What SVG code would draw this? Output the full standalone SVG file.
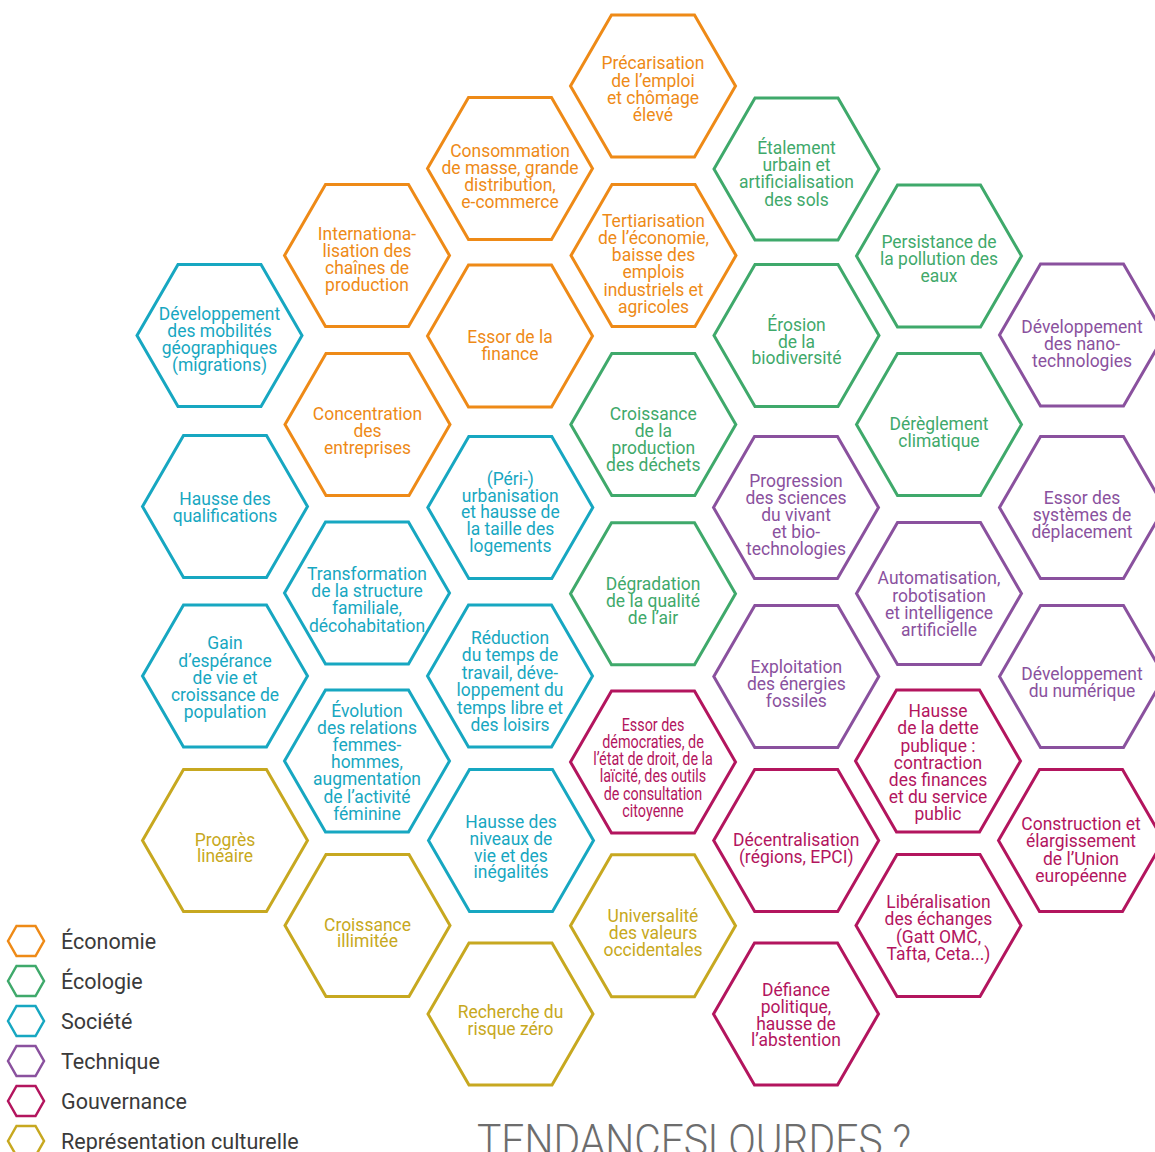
<svg xmlns="http://www.w3.org/2000/svg" xmlns:xlink="http://www.w3.org/1999/xlink" width="1155" height="1152" viewBox="0 0 1155 1152">
  <style>
    .lbl{font-family:Roboto,"Liberation Sans",sans-serif;font-size:19px;text-anchor:middle}
    .sm{font-size:17.5px}
    .eco use{stroke:#EE8A17}.eco text{fill:#EE8A17}
    .ecol use{stroke:#3FA96B}.ecol text{fill:#3FA96B}
    .soc use{stroke:#17A7C1}.soc text{fill:#17A7C1}
    .tech use{stroke:#8A519E}.tech text{fill:#8A519E}
    .gov use{stroke:#B3155E}.gov text{fill:#B3155E}
    .cult use{stroke:#C7A820}.cult text{fill:#C7A820}
    .leg{font-family:Roboto,"Liberation Sans",sans-serif;font-size:21.5px;fill:#3a3a3a}
    .title{font-family:Roboto,"Liberation Sans",sans-serif;font-weight:300;font-size:44px;fill:#6d6d6d}
  </style>
  <defs>
    <polygon id="hex" points="-82.5,0 -41.5,-71 41.5,-71 82.5,0 41.5,71 -41.5,71" fill="none" stroke-width="3"/>
    <polygon id="hexs" points="-18,0 -9.5,-15 9.5,-15 18,0 9.5,15 -9.5,15" fill="none" stroke-width="2.5"/>
  </defs>

  <!-- column 1 -->
  <g id="n-mobilites" class="soc">
    <use href="#hex" x="219.5" y="335.5"/>
    <text class="lbl" transform="translate(219.5 0) scale(0.92 1)"><tspan x="0" y="320.5">Développement</tspan><tspan x="0" y="337.3">des mobilités</tspan><tspan x="0" y="354.1">géographiques</tspan><tspan x="0" y="370.9">(migrations)</tspan></text>
  </g>
  <g id="n-qualifications" class="soc">
    <use href="#hex" x="225" y="506.5"/>
    <text class="lbl" transform="translate(225 0) scale(0.92 1)"><tspan x="0" y="505">Hausse des</tspan><tspan x="0" y="522">qualifications</tspan></text>
  </g>
  <g id="n-esperance" class="soc">
    <use href="#hex" x="225" y="676"/>
    <text class="lbl" transform="translate(225 0) scale(0.92 1)"><tspan x="0" y="649.3">Gain</tspan><tspan x="0" y="666.6">d’espérance</tspan><tspan x="0" y="683.8">de vie et</tspan><tspan x="0" y="701">croissance de</tspan><tspan x="0" y="718.2">population</tspan></text>
  </g>
  <g id="n-progres" class="cult">
    <use href="#hex" x="225" y="840.5"/>
    <text class="lbl" transform="translate(225 0) scale(0.92 1)"><tspan x="0" y="846">Progrès</tspan><tspan x="0" y="862.5">linéaire</tspan></text>
  </g>

  <!-- column 2 -->
  <g id="n-internationalisation" class="eco">
    <use href="#hex" x="367" y="255.5"/>
    <text class="lbl" transform="translate(367 0) scale(0.92 1)"><tspan x="0" y="240.5">Internationa-</tspan><tspan x="0" y="257.5">lisation des</tspan><tspan x="0" y="274.5">chaînes de</tspan><tspan x="0" y="291.5">production</tspan></text>
  </g>
  <g id="n-concentration" class="eco">
    <use href="#hex" x="367.5" y="424.5"/>
    <text class="lbl" transform="translate(367.5 0) scale(0.92 1)"><tspan x="0" y="420">Concentration</tspan><tspan x="0" y="437">des</tspan><tspan x="0" y="454">entreprises</tspan></text>
  </g>
  <g id="n-famille" class="soc">
    <use href="#hex" x="367" y="593"/>
    <text class="lbl" transform="translate(367 0) scale(0.92 1)"><tspan x="0" y="580">Transformation</tspan><tspan x="0" y="597.2">de la structure</tspan><tspan x="0" y="614.4">familiale,</tspan><tspan x="0" y="631.6">décohabitation</tspan></text>
  </g>
  <g id="n-femmes-hommes" class="soc">
    <use href="#hex" x="367" y="761"/>
    <text class="lbl" transform="translate(367 0) scale(0.92 1)"><tspan x="0" y="716.7">Évolution</tspan><tspan x="0" y="733.9">des relations</tspan><tspan x="0" y="751.1">femmes-</tspan><tspan x="0" y="768.3">hommes,</tspan><tspan x="0" y="785.5">augmentation</tspan><tspan x="0" y="802.7">de l’activité</tspan><tspan x="0" y="819.9">féminine</tspan></text>
  </g>
  <g id="n-croissance-illimitee" class="cult">
    <use href="#hex" x="367.5" y="925.5"/>
    <text class="lbl" transform="translate(367.5 0) scale(0.92 1)"><tspan x="0" y="930.7">Croissance</tspan><tspan x="0" y="947.5">illimitée</tspan></text>
  </g>

  <!-- column 3 -->
  <g id="n-consommation" class="eco">
    <use href="#hex" x="510" y="168.5"/>
    <text class="lbl" transform="translate(510 0) scale(0.92 1)"><tspan x="0" y="156.7">Consommation</tspan><tspan x="0" y="173.9">de masse, grande</tspan><tspan x="0" y="191.1">distribution,</tspan><tspan x="0" y="208.3">e-commerce</tspan></text>
  </g>
  <g id="n-finance" class="eco">
    <use href="#hex" x="510" y="336"/>
    <text class="lbl" transform="translate(510 0) scale(0.92 1)"><tspan x="0" y="342.7">Essor de la</tspan><tspan x="0" y="359.9">finance</tspan></text>
  </g>
  <g id="n-periurbanisation" class="soc">
    <use href="#hex" x="510.3" y="507.5"/>
    <text class="lbl" transform="translate(510.3 0) scale(0.92 1)"><tspan x="0" y="484.8">(Péri-)</tspan><tspan x="0" y="501.6">urbanisation</tspan><tspan x="0" y="518.4">et hausse de</tspan><tspan x="0" y="535.2">la taille des</tspan><tspan x="0" y="552">logements</tspan></text>
  </g>
  <g id="n-temps-travail" class="soc">
    <use href="#hex" x="510" y="676"/>
    <text class="lbl" transform="translate(510 0) scale(0.92 1)"><tspan x="0" y="644">Réduction</tspan><tspan x="0" y="661.5">du temps de</tspan><tspan x="0" y="679">travail, déve-</tspan><tspan x="0" y="696.5">loppement du</tspan><tspan x="0" y="714">temps libre et</tspan><tspan x="0" y="731.5">des loisirs</tspan></text>
  </g>
  <g id="n-niveaux-vie" class="soc">
    <use href="#hex" x="511" y="840.5"/>
    <text class="lbl" transform="translate(511 0) scale(0.92 1)"><tspan x="0" y="828.3">Hausse des</tspan><tspan x="0" y="845">niveaux de</tspan><tspan x="0" y="861.7">vie et des</tspan><tspan x="0" y="878.3">inégalités</tspan></text>
  </g>
  <g id="n-risque-zero" class="cult">
    <use href="#hex" x="510.5" y="1014"/>
    <text class="lbl" transform="translate(510.5 0) scale(0.92 1)"><tspan x="0" y="1018.3">Recherche du</tspan><tspan x="0" y="1035">risque zéro</tspan></text>
  </g>

  <!-- column 4 -->
  <g id="n-precarisation" class="eco">
    <use href="#hex" x="653" y="86"/>
    <text class="lbl" transform="translate(653 0) scale(0.92 1)"><tspan x="0" y="69.5">Précarisation</tspan><tspan x="0" y="86.7">de l’emploi</tspan><tspan x="0" y="103.9">et chômage</tspan><tspan x="0" y="121.1">élevé</tspan></text>
  </g>
  <g id="n-tertiarisation" class="eco">
    <use href="#hex" x="653.5" y="255.5"/>
    <text class="lbl" transform="translate(653.5 0) scale(0.92 1)"><tspan x="0" y="226.7">Tertiarisation</tspan><tspan x="0" y="244">de l’économie,</tspan><tspan x="0" y="261.3">baisse des</tspan><tspan x="0" y="278.5">emplois</tspan><tspan x="0" y="295.6">industriels et</tspan><tspan x="0" y="312.7">agricoles</tspan></text>
  </g>
  <g id="n-dechets" class="ecol">
    <use href="#hex" x="653.3" y="424.5"/>
    <text class="lbl" transform="translate(653.3 0) scale(0.92 1)"><tspan x="0" y="420">Croissance</tspan><tspan x="0" y="437">de la</tspan><tspan x="0" y="454">production</tspan><tspan x="0" y="471">des déchets</tspan></text>
  </g>
  <g id="n-air" class="ecol">
    <use href="#hex" x="653" y="593.7"/>
    <text class="lbl" transform="translate(653 0) scale(0.92 1)"><tspan x="0" y="590">Dégradation</tspan><tspan x="0" y="607">de la qualité</tspan><tspan x="0" y="624">de l’air</tspan></text>
  </g>
  <g id="n-democraties" class="gov">
    <use href="#hex" x="653" y="762"/>
    <text class="lbl sm" transform="translate(653 0) scale(0.82 1)"><tspan x="0" y="730.7">Essor des</tspan><tspan x="0" y="748">démocraties, de</tspan><tspan x="0" y="765.2">l’état de droit, de la</tspan><tspan x="0" y="782.4">laïcité, des outils</tspan><tspan x="0" y="799.6">de consultation</tspan><tspan x="0" y="816.8">citoyenne</tspan></text>
  </g>
  <g id="n-universalite" class="cult">
    <use href="#hex" x="653" y="925.8"/>
    <text class="lbl" transform="translate(653 0) scale(0.92 1)"><tspan x="0" y="921.7">Universalité</tspan><tspan x="0" y="939">des valeurs</tspan><tspan x="0" y="956.5">occidentales</tspan></text>
  </g>

  <!-- column 5 -->
  <g id="n-etalement" class="ecol">
    <use href="#hex" x="796.5" y="169"/>
    <text class="lbl" transform="translate(796.5 0) scale(0.92 1)"><tspan x="0" y="154">Étalement</tspan><tspan x="0" y="171.2">urbain et</tspan><tspan x="0" y="188.4">artificialisation</tspan><tspan x="0" y="205.6">des sols</tspan></text>
  </g>
  <g id="n-biodiversite" class="ecol">
    <use href="#hex" x="796.5" y="335.5"/>
    <text class="lbl" transform="translate(796.5 0) scale(0.92 1)"><tspan x="0" y="330.7">Érosion</tspan><tspan x="0" y="347.6">de la</tspan><tspan x="0" y="364.5">biodiversité</tspan></text>
  </g>
  <g id="n-sciences-vivant" class="tech">
    <use href="#hex" x="796" y="507.5"/>
    <text class="lbl" transform="translate(796 0) scale(0.92 1)"><tspan x="0" y="486.7">Progression</tspan><tspan x="0" y="503.7">des sciences</tspan><tspan x="0" y="520.7">du vivant</tspan><tspan x="0" y="537.7">et bio-</tspan><tspan x="0" y="554.7">technologies</tspan></text>
  </g>
  <g id="n-fossiles" class="tech">
    <use href="#hex" x="796.3" y="676.5"/>
    <text class="lbl" transform="translate(796.3 0) scale(0.92 1)"><tspan x="0" y="673.3">Exploitation</tspan><tspan x="0" y="690.3">des énergies</tspan><tspan x="0" y="707.3">fossiles</tspan></text>
  </g>
  <g id="n-decentralisation" class="gov">
    <use href="#hex" x="796.2" y="840.5"/>
    <text class="lbl" transform="translate(796.2 0) scale(0.92 1)"><tspan x="0" y="846">Décentralisation</tspan><tspan x="0" y="862.7">(régions, EPCI)</tspan></text>
  </g>
  <g id="n-defiance" class="gov">
    <use href="#hex" x="796" y="1014"/>
    <text class="lbl" transform="translate(796 0) scale(0.92 1)"><tspan x="0" y="996">Défiance</tspan><tspan x="0" y="1012.8">politique,</tspan><tspan x="0" y="1029.6">hausse de</tspan><tspan x="0" y="1046.4">l’abstention</tspan></text>
  </g>

  <!-- column 6 -->
  <g id="n-pollution-eaux" class="ecol">
    <use href="#hex" x="939" y="256"/>
    <text class="lbl" transform="translate(939 0) scale(0.92 1)"><tspan x="0" y="248.3">Persistance de</tspan><tspan x="0" y="265.3">la pollution des</tspan><tspan x="0" y="282.3">eaux</tspan></text>
  </g>
  <g id="n-climat" class="ecol">
    <use href="#hex" x="939" y="424.5"/>
    <text class="lbl" transform="translate(939 0) scale(0.92 1)"><tspan x="0" y="429.8">Dérèglement</tspan><tspan x="0" y="446.8">climatique</tspan></text>
  </g>
  <g id="n-automatisation" class="tech">
    <use href="#hex" x="939" y="593.5"/>
    <text class="lbl" transform="translate(939 0) scale(0.92 1)"><tspan x="0" y="584.5">Automatisation,</tspan><tspan x="0" y="601.7">robotisation</tspan><tspan x="0" y="618.9">et intelligence</tspan><tspan x="0" y="636.1">artificielle</tspan></text>
  </g>
  <g id="n-dette" class="gov">
    <use href="#hex" x="938" y="761"/>
    <text class="lbl" transform="translate(938 0) scale(0.92 1)"><tspan x="0" y="717.3">Hausse</tspan><tspan x="0" y="734.5">de la dette</tspan><tspan x="0" y="751.7">publique :</tspan><tspan x="0" y="768.9">contraction</tspan><tspan x="0" y="786.1">des finances</tspan><tspan x="0" y="803.3">et du service</tspan><tspan x="0" y="820.5">public</tspan></text>
  </g>
  <g id="n-liberalisation" class="gov">
    <use href="#hex" x="938.5" y="925.5"/>
    <text class="lbl" transform="translate(938.5 0) scale(0.92 1)"><tspan x="0" y="908.3">Libéralisation</tspan><tspan x="0" y="925.5">des échanges</tspan><tspan x="0" y="942.7">(Gatt OMC,</tspan><tspan x="0" y="959.9">Tafta, Ceta...)</tspan></text>
  </g>

  <!-- column 7 -->
  <g id="n-nanotech" class="tech">
    <use href="#hex" x="1082" y="335"/>
    <text class="lbl" transform="translate(1082 0) scale(0.92 1)"><tspan x="0" y="333.3">Développement</tspan><tspan x="0" y="350.1">des nano-</tspan><tspan x="0" y="366.9">technologies</tspan></text>
  </g>
  <g id="n-deplacement" class="tech">
    <use href="#hex" x="1082" y="507.5"/>
    <text class="lbl" transform="translate(1082 0) scale(0.92 1)"><tspan x="0" y="503.8">Essor des</tspan><tspan x="0" y="521">systèmes de</tspan><tspan x="0" y="538.2">déplacement</tspan></text>
  </g>
  <g id="n-numerique" class="tech">
    <use href="#hex" x="1082" y="676.5"/>
    <text class="lbl" transform="translate(1082 0) scale(0.92 1)"><tspan x="0" y="680">Développement</tspan><tspan x="0" y="697.2">du numérique</tspan></text>
  </g>
  <g id="n-union-europeenne" class="gov">
    <use href="#hex" x="1081" y="840.5"/>
    <text class="lbl" transform="translate(1081 0) scale(0.92 1)"><tspan x="0" y="830">Construction et</tspan><tspan x="0" y="847.3">élargissement</tspan><tspan x="0" y="864.6">de l’Union</tspan><tspan x="0" y="881.9">européenne</tspan></text>
  </g>

  <!-- connectors: none in this layout -->
  <g id="connectors"/>

  <!-- legend -->
  <g id="legend">
    <g class="eco"><use href="#hexs" x="26" y="941"/></g>
    <text class="leg" x="61" y="948.5">Économie</text>
    <g class="ecol"><use href="#hexs" x="26" y="981"/></g>
    <text class="leg" x="61" y="988.5">Écologie</text>
    <g class="soc"><use href="#hexs" x="26" y="1021"/></g>
    <text class="leg" x="61" y="1028.5">Société</text>
    <g class="tech"><use href="#hexs" x="26" y="1061"/></g>
    <text class="leg" x="61" y="1068.5">Technique</text>
    <g class="gov"><use href="#hexs" x="26" y="1101"/></g>
    <text class="leg" x="61" y="1108.5">Gouvernance</text>
    <g class="cult"><use href="#hexs" x="26" y="1141"/></g>
    <text class="leg" x="61" y="1148.5">Représentation culturelle</text>
  </g>

  <text id="title" class="title" x="477" y="1155.5" textLength="434" lengthAdjust="spacingAndGlyphs">TENDANCESLOURDES ?</text>
</svg>
